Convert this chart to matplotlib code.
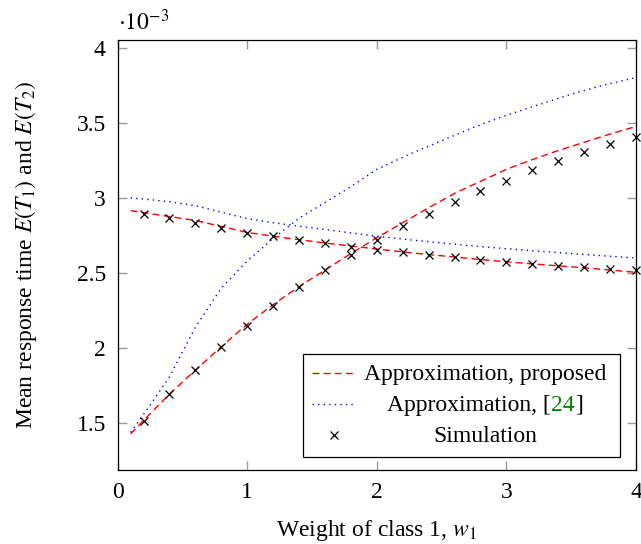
import matplotlib
matplotlib.use("Agg")
import matplotlib.pyplot as plt
from matplotlib.patches import Rectangle
from matplotlib.lines import Line2D

plt.rcParams['font.family'] = ['Liberation Serif', 'DejaVu Serif']
plt.rcParams['mathtext.fontset'] = 'stix'

FS = 17

# values in units of 1e-3
w_sim = [0.2, 0.4, 0.6, 0.8, 1.0, 1.2, 1.4, 1.6, 1.8, 2.0,
         2.2, 2.4, 2.6, 2.8, 3.0, 3.2, 3.4, 3.6, 3.8, 4.0]
sim_t1 = [1.516, 1.695, 1.855, 2.007, 2.147, 2.279, 2.405, 2.518, 2.618, 2.717,
          2.81, 2.894, 2.974, 3.045, 3.115, 3.184, 3.244, 3.306, 3.356, 3.407]
sim_t2 = [2.894, 2.863, 2.832, 2.797, 2.766, 2.744, 2.722, 2.70, 2.673, 2.655,
          2.638, 2.62, 2.605, 2.589, 2.576, 2.563, 2.55, 2.54, 2.527, 2.518]

w_prop = [0.1, 0.2, 0.4, 0.6, 0.8, 1.0, 1.2, 1.4, 1.6, 1.8, 2.0,
          2.2, 2.4, 2.6, 2.8, 3.0, 3.2, 3.4, 3.6, 3.8, 4.0]
prop_t1 = [1.43, 1.52, 1.695, 1.855, 2.01, 2.16, 2.29, 2.41, 2.52, 2.63, 2.735,
           2.835, 2.935, 3.03, 3.11, 3.19, 3.255, 3.315, 3.37, 3.425, 3.475]
prop_t2 = [2.915, 2.902, 2.876, 2.85, 2.81, 2.77, 2.745, 2.722, 2.70, 2.68, 2.66,
           2.641, 2.623, 2.607, 2.59, 2.575, 2.561, 2.548, 2.535, 2.52, 2.505]

w_old = [0.1, 0.25, 0.4, 0.6, 0.8, 1.0, 1.2, 1.4, 1.6, 1.8, 2.0,
         2.25, 2.5, 2.75, 3.0, 3.25, 3.5, 3.75, 4.0]
old_t1 = [1.44, 1.62, 1.81, 2.14, 2.40, 2.58, 2.73, 2.865, 2.97, 3.075, 3.19,
          3.29, 3.38, 3.47, 3.55, 3.62, 3.69, 3.75, 3.80]
old_t2 = [3.0, 2.988, 2.975, 2.948, 2.905, 2.862, 2.835, 2.812, 2.79, 2.767, 2.745,
          2.722, 2.70, 2.68, 2.662, 2.646, 2.63, 2.615, 2.60]

legend_labels = ["Approximation, proposed", "Approximation, [", "24", "]", "Simulation"]

fig = plt.figure(figsize=(6.41, 5.44), dpi=100)
ax = fig.add_axes([0.1835, 0.136, 0.8087, 0.7904])

red_kw = dict(color='red', lw=1.0, dashes=(5, 3))
blue_kw = dict(color='blue', lw=1.0, dashes=(1, 3))
sim_kw = dict(color='black', marker='x', ms=6, mew=0.9, ls='none')

ax.plot(w_prop, prop_t1, **red_kw)
ax.plot(w_prop, prop_t2, **red_kw)
ax.plot(w_old, old_t1, **blue_kw)
ax.plot(w_old, old_t2, **blue_kw)
ax.plot(w_sim, sim_t1, clip_on=False, **sim_kw)
ax.plot(w_sim, sim_t2, clip_on=False, **sim_kw)

ax.set_xlim(0, 4)
ax.set_ylim(1.19, 4.05)
ax.set_xticks([0, 1, 2, 3, 4])
ax.set_xticklabels(['0', '1', '2', '3', '4'])
ax.set_yticks([1.5, 2, 2.5, 3, 3.5, 4])
ax.set_yticklabels(['1.5', '2', '2.5', '3', '3.5', '4'])
ax.tick_params(direction='in', length=6.5, width=1.0, color='#999999',
               top=True, right=True, labelsize=FS, pad=8.5)
for s in ax.spines.values():
    s.set_linewidth(0.9)

ax.set_xlabel(r'Weight of class 1, $w_1$', fontsize=FS, labelpad=11)
ax.set_ylabel(r'Mean response time $E(T_1)$ and $E(T_2)$', fontsize=FS, labelpad=27)
ax.text(0.0, 1.012, r'$\cdot 10^{-3}$', transform=ax.transAxes, fontsize=FS,
        ha='left', va='bottom')

# legend, pgfplots style (centred text column)
ax.add_patch(Rectangle((0.3576, 0.0302), 0.6114, 0.2396, transform=ax.transAxes,
                       fill=True, facecolor='white', edgecolor='black', lw=0.9, zorder=5))
rows_y = [0.2093, 0.1379, 0.0658]
hx0, hx1, tx = 0.375, 0.46, 0.7087
ax.add_line(Line2D([hx0, hx1], [rows_y[0] + 0.016] * 2, transform=ax.transAxes, zorder=6, **red_kw))
ax.add_line(Line2D([hx0, hx1], [rows_y[1] + 0.016] * 2, transform=ax.transAxes, zorder=6, **blue_kw))
ax.add_line(Line2D([(hx0 + hx1) / 2], [rows_y[2] + 0.016], transform=ax.transAxes, zorder=6, **sim_kw))

ax.text(tx, rows_y[0], legend_labels[0], transform=ax.transAxes, fontsize=FS,
        ha='center', va='baseline', zorder=6)
ax.text(tx, rows_y[2], legend_labels[4], transform=ax.transAxes, fontsize=FS,
        ha='center', va='baseline', zorder=6)

parts = [ax.text(0, rows_y[1], p, transform=ax.transAxes, fontsize=FS, color=c,
                 ha='left', va='baseline', zorder=6)
         for p, c in zip(legend_labels[1:4], ['black', '#008000', 'black'])]
fig.canvas.draw()
r = fig.canvas.get_renderer()
widths = [t.get_window_extent(r).width / ax.bbox.width for t in parts]
x = tx - sum(widths) / 2
for t, wdt in zip(parts, widths):
    t.set_x(x)
    x += wdt

fig.savefig('out.png', dpi=100)
